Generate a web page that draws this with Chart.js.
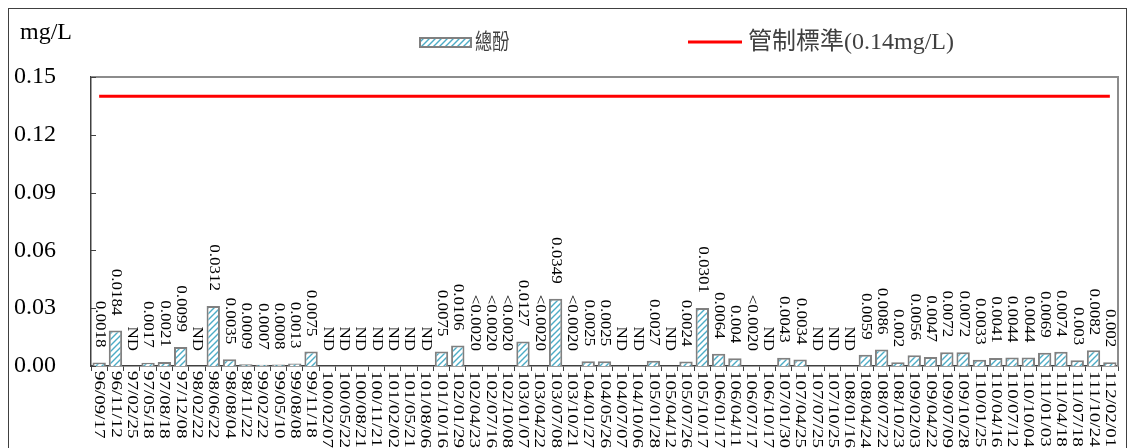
<!DOCTYPE html>
<html>
<head>
<meta charset="utf-8">
<script src="https://cdn.jsdelivr.net/npm/chart.js@4.4.0/dist/chart.umd.min.js"></script>
<style>
  html, body { margin: 0; padding: 0; background: #fff; }
  #wrap { width: 1133px; height: 448px; overflow: hidden; }
</style>
</head>
<body>
<div id="wrap"><canvas id="chart" width="1133" height="448"></canvas></div>
<script>
// sampling dates (ROC calendar)
const dates = [
  '96/09/17','96/11/12','97/02/25','97/05/18','97/08/18','97/12/08','98/02/22','98/06/22',
  '98/08/04','98/11/22','99/02/22','99/05/10','99/08/08','99/11/18','100/02/07','100/05/22',
  '100/08/21','100/11/21','101/02/02','101/05/21','101/08/06','101/10/16','102/01/29','102/04/23',
  '102/07/16','102/10/08','103/01/07','103/04/22','103/07/08','103/10/21','104/01/27','104/05/26',
  '104/07/07','104/10/06','105/01/28','105/04/12','105/07/26','105/10/17','106/01/17','106/04/11',
  '106/07/17','106/10/17','107/01/30','107/04/25','107/07/25','107/10/25','108/01/16','108/04/24',
  '108/07/22','108/10/23','109/02/03','109/04/22','109/07/09','109/10/28','110/01/25','110/04/16',
  '110/07/12','110/10/04','111/01/03','111/04/18','111/07/18','111/10/24','112/02/01'
];

// 總酚 (mg/L); null = ND or below detection limit
const phenol = [
  0.0018, 0.0184, null, 0.0017, 0.0021, 0.0099, null, 0.0312,
  0.0035, 0.0009, 0.0007, 0.0008, 0.0013, 0.0075, null, null,
  null, null, null, null, null, 0.0075, 0.0106, null,
  null, null, 0.0127, null, 0.0349, null, 0.0025, 0.0025,
  null, null, 0.0027, null, 0.0024, 0.0301, 0.0064, 0.004,
  null, null, 0.0043, 0.0034, null, null, null, 0.0059,
  0.0086, 0.002, 0.0056, 0.0047, 0.0072, 0.0072, 0.0033, 0.0041,
  0.0044, 0.0044, 0.0069, 0.0074, 0.003, 0.0082, 0.002
];

// text printed above each bar
const valueLabels = [
  '0.0018','0.0184','ND','0.0017','0.0021','0.0099','ND','0.0312',
  '0.0035','0.0009','0.0007','0.0008','0.0013','0.0075','ND','ND',
  'ND','ND','ND','ND','ND','0.0075','0.0106','<0.0020',
  '<0.0020','<0.0020','0.0127','<0.0020','0.0349','<0.0020','0.0025','0.0025',
  'ND','ND','0.0027','ND','0.0024','0.0301','0.0064','0.004',
  '<0.0020','ND','0.0043','0.0034','ND','ND','ND','0.0059',
  '0.0086','0.002','0.0056','0.0047','0.0072','0.0072','0.0033','0.0041',
  '0.0044','0.0044','0.0069','0.0074','0.003','0.0082','0.002'
];

const standard = 0.14;
const yTicks = [0, 0.03, 0.06, 0.09, 0.12, 0.15];
const yTickLabels = ['0.00', '0.03', '0.06', '0.09', '0.12', '0.15'];

const SERIF = "'Liberation Serif', 'Times New Roman', serif";
const CJK = "'Liberation Serif', 'Noto Sans CJK TC', sans-serif";

// hatched fill for the bars
function makeHatch(ctx) {
  const pc = document.createElement('canvas');
  pc.width = 6; pc.height = 6;
  const p = pc.getContext('2d');
  p.fillStyle = '#ffffff';
  p.fillRect(0, 0, 6, 6);
  p.strokeStyle = '#4bacc6';
  p.lineWidth = 1.4;
  p.beginPath();
  p.moveTo(0, 6); p.lineTo(6, 0);
  p.moveTo(-3, 3); p.lineTo(3, -3);
  p.moveTo(3, 9); p.lineTo(9, 3);
  p.stroke();
  return ctx.createPattern(pc, 'repeat');
}

const canvas = document.getElementById('chart');
const ctx = canvas.getContext('2d');
const hatch = makeHatch(ctx);

// extras: rotated labels, legend, unit, frame
const decorations = {
  id: 'decorations',
  afterDraw(chart) {
    const c = chart.ctx;
    const xs = chart.scales.x;
    const ys = chart.scales.y;
    const area = chart.chartArea;
    const meta = chart.getDatasetMeta(1);
    c.save();

    // plot border (top / right)
    c.strokeStyle = '#8c8c8c';
    c.lineWidth = 2;
    c.beginPath();
    c.moveTo(area.left, area.top);
    c.lineTo(area.right, area.top);
    c.lineTo(area.right, area.bottom);
    c.stroke();

    // inner y ticks
    c.strokeStyle = '#404040';
    c.lineWidth = 1;
    yTicks.forEach(v => {
      const y = Math.round(ys.getPixelForValue(v)) + 0.5;
      c.beginPath();
      c.moveTo(area.left, y);
      c.lineTo(area.left + 5, y);
      c.stroke();
    });

    // value labels above bars, rotated clockwise
    c.fillStyle = '#000';
    c.font = '17px ' + SERIF;
    c.textBaseline = 'middle';
    valueLabels.forEach((txt, i) => {
      const x = xs.getPixelForValue(i);
      const top = phenol[i] == null ? ys.getPixelForValue(0) : meta.data[i].y;
      c.save();
      c.translate(x, top - 15);
      c.rotate(Math.PI / 2);
      c.scale(1, 0.8);
      c.textAlign = 'right';
      c.fillText(txt, 0, 0);
      c.restore();
    });

    // category labels, rotated clockwise
    c.font = '19px ' + SERIF;
    dates.forEach((d, i) => {
      const x = xs.getPixelForValue(i);
      c.save();
      c.translate(x, area.bottom + 5);
      c.rotate(Math.PI / 2);
      c.scale(1, 0.78);
      c.textAlign = 'left';
      c.fillText(d, 0, 0);
      c.restore();
    });

    // unit
    c.textAlign = 'left';
    c.font = '24px ' + SERIF;
    c.fillText('mg/L', 20, 33);

    // legend: bars
    c.fillStyle = hatch;
    c.fillRect(420, 38, 51, 9);
    c.strokeStyle = '#808080';
    c.lineWidth = 2;
    c.strokeRect(420, 38, 51, 9);
    c.save();
    c.fillStyle = '#404040';
    c.font = '22px ' + CJK;
    c.translate(475, 43);
    c.scale(0.78, 1);
    c.fillText(chart.data.datasets[1].label, 0, 0);
    c.restore();

    // legend: standard line
    c.strokeStyle = '#ff0000';
    c.lineWidth = 3;
    c.beginPath();
    c.moveTo(688, 42);
    c.lineTo(742, 42);
    c.stroke();
    c.fillStyle = '#404040';
    c.font = '24px ' + CJK;
    c.fillText(chart.data.datasets[0].label, 748, 43);

    // outer frame
    c.strokeStyle = '#404040';
    c.lineWidth = 1;
    c.strokeRect(8.5, 8.5, 1118, 460);

    c.restore();
  }
};

new Chart(ctx, {
  data: {
    labels: dates,
    datasets: [
      {
        type: 'line',
        label: '管制標準(0.14mg/L)',
        data: dates.map(() => standard),
        borderColor: '#ff0000',
        borderWidth: 3,
        pointRadius: 0,
        fill: false,
        order: 0
      },
      {
        type: 'bar',
        label: '總酚',
        data: phenol,
        backgroundColor: hatch,
        borderColor: '#808080',
        borderWidth: 2,
        barPercentage: 0.82,
        categoryPercentage: 1.0,
        order: 1
      }
    ]
  },
  options: {
    responsive: false,
    animation: false,
    layout: { padding: { left: 14, top: 77, right: 15, bottom: 0 } },
    plugins: {
      legend: { display: false },
      tooltip: { enabled: false }
    },
    scales: {
      x: {
        offset: true,
        grid: {
          display: true,
          offset: true,
          drawOnChartArea: false,
          drawTicks: true,
          tickLength: 5,
          color: '#404040'
        },
        border: { display: true, color: '#404040', width: 1.5 },
        ticks: { display: false },
        afterFit(scale) { scale.height = 448 - 366; }
      },
      y: {
        min: 0,
        max: 0.15,
        afterBuildTicks(scale) { scale.ticks = yTicks.map(v => ({ value: v })); },
        ticks: {
          crossAlign: 'far',
          color: '#000',
          font: { family: SERIF, size: 24 },
          callback: (v, i) => yTickLabels[i]
        },
        grid: { display: false },
        border: { display: true, color: '#404040', width: 1.5 },
        afterFit(scale) { scale.width = 91 - 14; }
      }
    }
  },
  plugins: [decorations]
});
</script>
</body>
</html>
